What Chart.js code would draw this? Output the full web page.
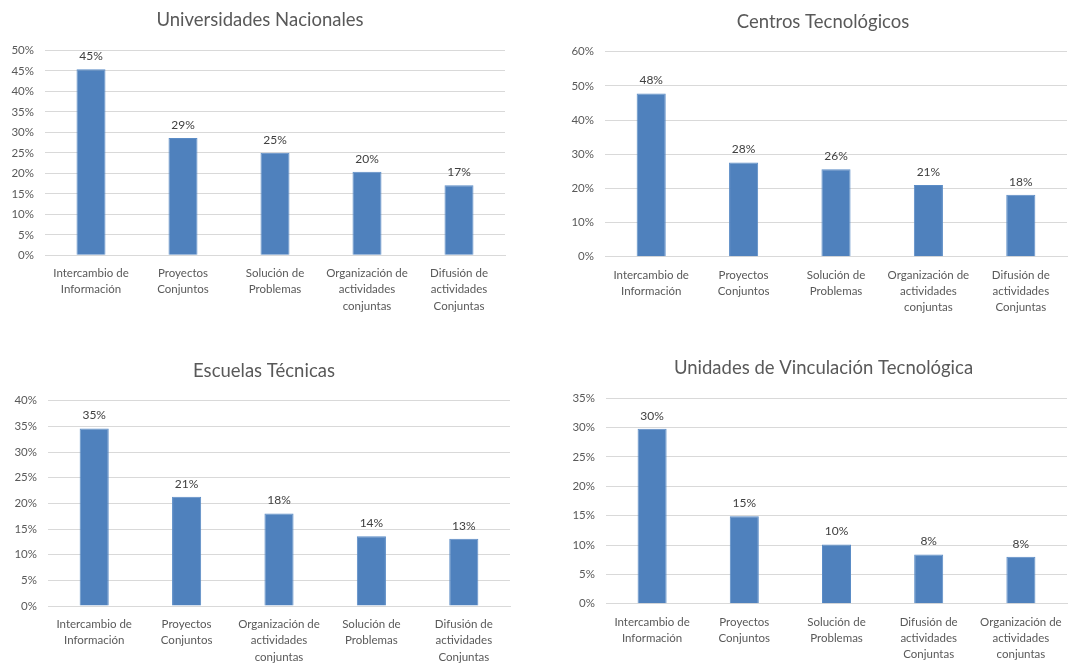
<!DOCTYPE html>
<html lang="es">
<head>
<meta charset="UTF-8">
<title>Tipos de vinculación por institución</title>
<script src="https://cdn.jsdelivr.net/npm/chart.js"></script>
<style>
  body { margin: 0; background: #fff; }
  .caja { position: absolute; width: 546px; height: 333px; }
</style>
</head>
<body>
<div class="caja" style="left:0;top:0"><canvas id="g1"></canvas></div>
<div class="caja" style="left:546px;top:0"><canvas id="g2"></canvas></div>
<div class="caja" style="left:0;top:333px"><canvas id="g3"></canvas></div>
<div class="caja" style="left:546px;top:333px"><canvas id="g4"></canvas></div>
<script>
// datos (porcentajes)
const intercambio = ["Intercambio de", "Información"];
const proyectos = ["Proyectos", "Conjuntos"];
const solucion = ["Solución de", "Problemas"];
const organizacion = ["Organización de", "actividades", "conjuntas"];
const difusion = ["Difusión de", "actividades", "Conjuntas"];

const titulos = ["Universidades Nacionales", "Centros Tecnológicos", "Escuelas Técnicas", "Unidades de Vinculación Tecnológica"];

const catUniversidades = [intercambio, proyectos, solucion, organizacion, difusion];
const valUniversidades = [45.4, 28.6, 25.0, 20.4, 17.1];

const catCentros = [intercambio, proyectos, solucion, organizacion, difusion];
const valCentros = [47.8, 27.6, 25.6, 21.0, 18.1];

const catEscuelas = [intercambio, proyectos, organizacion, solucion, difusion];
const valEscuelas = [34.6, 21.3, 18.0, 13.6, 13.1];

const catUnidades = [intercambio, proyectos, solucion, difusion, organizacion];
const valUnidades = [29.8, 14.9, 10.1, 8.4, 8.0];

const ejeMax = [50, 60, 40, 35];
const ejePaso = [5, 10, 5, 5];

const fuente = "Lato, 'Open Sans', sans-serif";

const etiquetasValor = {
  id: 'etiquetasValor',
  afterDatasetsDraw(chart) {
    const ctx = chart.ctx;
    const meta = chart.getDatasetMeta(0);
    const datos = chart.data.datasets[0].data;
    ctx.save();
    ctx.font = '12px ' + fuente;
    ctx.fillStyle = '#404040';
    ctx.textAlign = 'center';
    ctx.textBaseline = 'bottom';
    meta.data.forEach((barra, i) => {
      ctx.fillText(Math.round(datos[i]) + '%', barra.x, barra.y - 7);
    });
    ctx.restore();
  }
};

// titulo centrado sobre la caja del grafico (como en Excel), no sobre el canvas
const tituloCaja = {
  id: 'tituloCaja',
  afterDraw(chart, args, opts) {
    const ctx = chart.ctx;
    ctx.save();
    ctx.font = '18.5px ' + fuente;
    ctx.fillStyle = '#595959';
    ctx.textAlign = 'center';
    ctx.textBaseline = 'middle';
    ctx.fillText(opts.texto, opts.x, opts.y);
    ctx.restore();
  }
};

// area: [izq, der, arriba, abajo, x titulo, y titulo] dentro de cada caja de 546x333
function grafico(id, titulo, categorias, valores, max, paso, area) {
  const [izq, der, arriba, abajo, xTitulo, yTitulo] = area;
  new Chart(document.getElementById(id), {
    type: 'bar',
    data: {
      labels: categorias,
      datasets: [{
        data: valores,
        backgroundColor: '#4f81bd',
        borderColor: '#5b8cc6',
        borderWidth: 1,
        categoryPercentage: 0.315,
        barPercentage: 1
      }]
    },
    options: {
      responsive: true,
      maintainAspectRatio: false,
      animation: false,
      layout: { padding: { left: 0, right: 546 - der, top: arriba, bottom: 0 } },
      plugins: {
        legend: { display: false },
        tooltip: { enabled: false },
        title: { display: false },
        tituloCaja: { texto: titulo, x: xTitulo, y: yTitulo }
      },
      scales: {
        x: {
          grid: { display: false, drawTicks: false },
          border: { color: '#d9d9d9' },
          ticks: {
            color: '#595959',
            font: { family: fuente, size: 11.5, lineHeight: 1.42 },
            maxRotation: 0,
            autoSkip: false,
            padding: 10
          },
          afterFit(escala) { escala.height = 333 - abajo; }
        },
        y: {
          min: 0,
          max: max,
          grid: { color: '#d9d9d9', drawTicks: false },
          border: { display: false },
          ticks: {
            stepSize: paso,
            color: '#595959',
            font: { family: fuente, size: 11.5 },
            padding: 11,
            callback: v => v + '%'
          },
          afterFit(escala) { escala.width = izq; }
        }
      }
    },
    plugins: [etiquetasValor, tituloCaja]
  });
}

grafico('g1', titulos[0], catUniversidades, valUniversidades, ejeMax[0], ejePaso[0], [45, 505, 50.3, 255.3, 260, 20]);
grafico('g2', titulos[1], catCentros, valCentros, ejeMax[1], ejePaso[1], [59, 521, 51.7, 256.7, 277, 21.7]);
grafico('g3', titulos[2], catEscuelas, valEscuelas, ejeMax[2], ejePaso[2], [48, 510, 67.7, 273, 264, 37.7]);
grafico('g4', titulos[3], catUnidades, valUnidades, ejeMax[3], ejePaso[3], [60, 521, 65.3, 270.7, 277.5, 35]);
</script>
</body>
</html>
